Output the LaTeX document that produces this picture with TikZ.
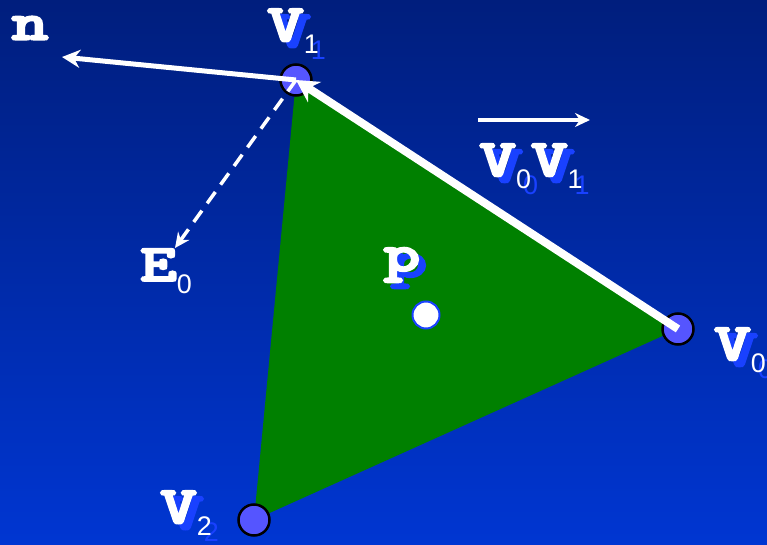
\documentclass[tikz,border=0pt]{standalone}
\usepackage{fontspec}
\usepackage{graphicx}
\setmainfont{Liberation Sans}
\newfontfamily\lblfont[FakeBold=3.5]{lmmonolt10-bold.otf}
\usetikzlibrary{arrows.meta}
\definecolor{bgtop}{RGB}{0,30,125}
\definecolor{bgbottom}{RGB}{0,54,210}
\definecolor{trigreen}{RGB}{0,128,0}
\definecolor{vertblue}{RGB}{85,85,255}
\definecolor{shblue}{RGB}{25,65,255}
\newcommand{\shtext}[1]{\makebox[0pt][l]{\hspace{7bp}\raisebox{-6bp}{\color{shblue}#1}}#1}
\newcommand{\subdig}[1]{\raisebox{-12bp}{\fontsize{27}{27}\selectfont #1}}
\newcommand{\lettr}[1]{\scalebox{1.35}[1.02]{\lblfont\fontsize{52}{52}\selectfont #1}}

\begin{document}
\begin{tikzpicture}[x=1bp,y=-1bp,
    vertex/.style={circle,draw=black,line width=2.5bp,fill=vertblue,minimum size=31bp,inner sep=0pt},
    lbl/.style={text=white,inner sep=0pt},
    vec/.style={white,line width=5bp,-{Stealth[length=18bp,width=18bp]}}]
    \useasboundingbox (0,0) rectangle (767,545);
    \shade[top color=bgtop,bottom color=bgbottom] (0,0) rectangle (767,545);

    \coordinate (c0) at (678,329);
    \coordinate (c1) at (296,80);
    \coordinate (c2) at (254,520);
    \coordinate (ntip) at (62,57);
    \coordinate (etip) at (175,248);
    \coordinate (dstart) at (478,120);
    \coordinate (dend) at (590,120);

    \fill[trigreen] (c0) -- (c1) -- (c2) -- cycle;
    \node[vertex] (v0) at (c0) {};
    \node[vertex] (v1) at (c1) {};
    \node[vertex] (v2) at (c2) {};
    \node[circle,draw=shblue,line width=2bp,fill=white,minimum size=27bp,inner sep=0pt] (p) at (426,315) {};

    \draw[vec,line width=8bp,-{Stealth[length=22bp,width=24bp]}] (v0.center) -- (v1.center);
    \draw[vec] (v1.center) -- (ntip);
    \draw[vec,line width=3.5bp,dash pattern=on 14bp off 9bp,-{Stealth[length=15bp,width=14bp]}] (v1.center) -- (etip);
    \draw[vec,line width=4bp,-{Stealth[length=15bp,width=14bp]}] (dstart) -- (dend);

    \node[lbl] (nl) at (30,28) {\lettr{n}};
    \node[lbl] (v1l) at (293,34) {\shtext{\lettr{V}\subdig{1}}};
    \node[lbl] (v0v1l) at (531,169) {\shtext{\lettr{V}\subdig{0}\lettr{V}\subdig{1}}};
    \node[lbl] (v0l) at (740,353) {\shtext{\lettr{V}\subdig{0}}};
    \node[lbl] (v2l) at (186,516) {\shtext{\lettr{V}\subdig{2}}};
    \node[lbl] (e0l) at (166,271) {\lettr{E}\subdig{0}};
    \node[lbl] (pl) at (402,268) {\shtext{\lettr{p}}};
\end{tikzpicture}
\end{document}
